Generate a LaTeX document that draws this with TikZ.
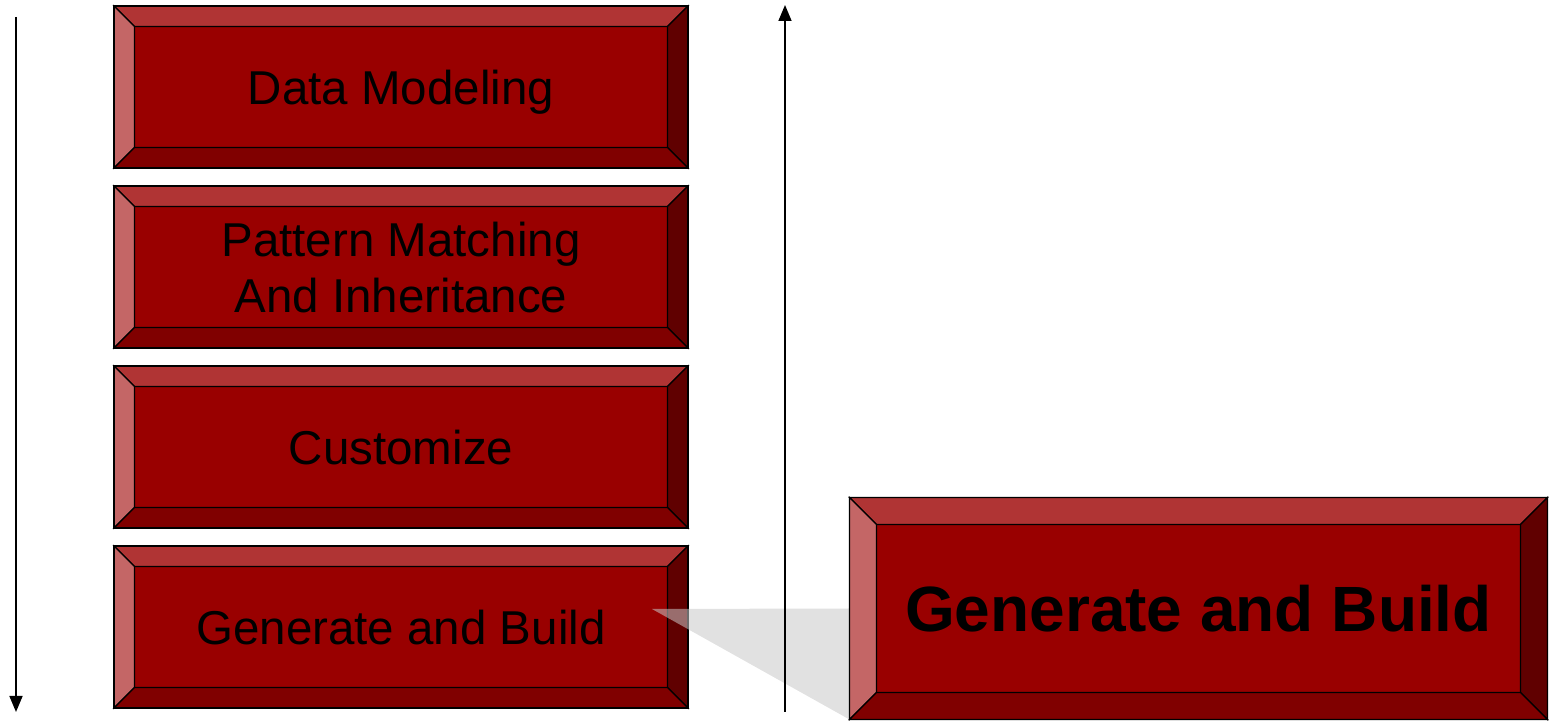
\documentclass[tikz,border=0pt]{standalone}
\usepackage{fontspec}
\setmainfont{Liberation Sans}
\usepackage{tikz}
\usetikzlibrary{shapes, arrows, arrows.meta, positioning, calc}

\definecolor{facered}{RGB}{153,0,0}
\definecolor{bevtop}{RGB}{176,52,52}
\definecolor{bevleft}{RGB}{196,102,102}
\definecolor{bevright}{RGB}{96,0,0}
\definecolor{bevbottom}{RGB}{128,0,0}
\definecolor{callout}{RGB}{200,200,200}

\tikzset{
  stage/.style={draw=black, line width=1.6pt, fill=facered, inner sep=0pt, outer sep=0pt,
    minimum width=574pt, minimum height=162pt, align=center, text depth=0pt,
    font=\fontsize{47.5}{56}\selectfont},
  bigstage/.style={stage, minimum width=698pt, minimum height=222pt,
    font=\fontsize{64}{70}\selectfont\bfseries},
  bevel/.style={draw=black, line width=1.2pt, line join=miter},
  flow/.style={line width=1.6pt, -{Triangle[width=13pt,length=16pt]}},
}

% bevelled frame round a node: #1 node, #2 depth
\newcommand{\bevels}[2]{
  \coordinate (#1-nw) at ($(#1.north west)+(#2,-#2)$);
  \coordinate (#1-ne) at ($(#1.north east)+(-#2,-#2)$);
  \coordinate (#1-se) at ($(#1.south east)+(-#2,#2)$);
  \coordinate (#1-sw) at ($(#1.south west)+(#2,#2)$);
  \filldraw[bevel, fill=bevtop] (#1.north west) -- (#1.north east) -- (#1-ne) -- (#1-nw) -- cycle;
  \filldraw[bevel, fill=bevleft] (#1.north west) -- (#1-nw) -- (#1-sw) -- (#1.south west) -- cycle;
  \filldraw[bevel, fill=bevright] (#1.north east) -- (#1-ne) -- (#1-se) -- (#1.south east) -- cycle;
  \filldraw[bevel, fill=bevbottom] (#1.south west) -- (#1-sw) -- (#1-se) -- (#1.south east) -- cycle;
  \draw[line width=1.6pt] (#1.north west) rectangle (#1.south east);
}

\begin{document}
\begin{tikzpicture}[x=1pt, y=1pt]
\useasboundingbox (0,0) rectangle (1549,722);

% stages on the left
\node[stage] (model) at (401,635) {Data Modeling};
\node[stage, below=18pt of model] (match) {Pattern Matching\\And Inheritance};
\node[stage, below=18pt of match] (custom) {Customize};
\node[stage, below=18pt of custom] (build) {Generate and Build};
\foreach \s in {model, match, custom, build} {\bevels{\s}{20.5pt}}

% downward arrow
\coordinate (downtop) at (16,705);
\coordinate (downend) at (16,10);
\draw[flow] (downtop) -- (downend);

% callout and upward arrow
\node[bigstage] (zoom) at (1198.5,113.5) {Generate and Build};
\coordinate (apex) at (652,113);
\fill[callout, opacity=0.55] (apex) -- (zoom.west) -- (zoom.south west) -- cycle;
\coordinate (upstart) at (785,10);
\coordinate (upend) at (785,717);
\draw[flow] (upstart) -- (upend);

% enlarged stage
\node[bigstage] (big) at (zoom) {Generate and Build};
\bevels{big}{27pt}
\end{tikzpicture}
\end{document}
